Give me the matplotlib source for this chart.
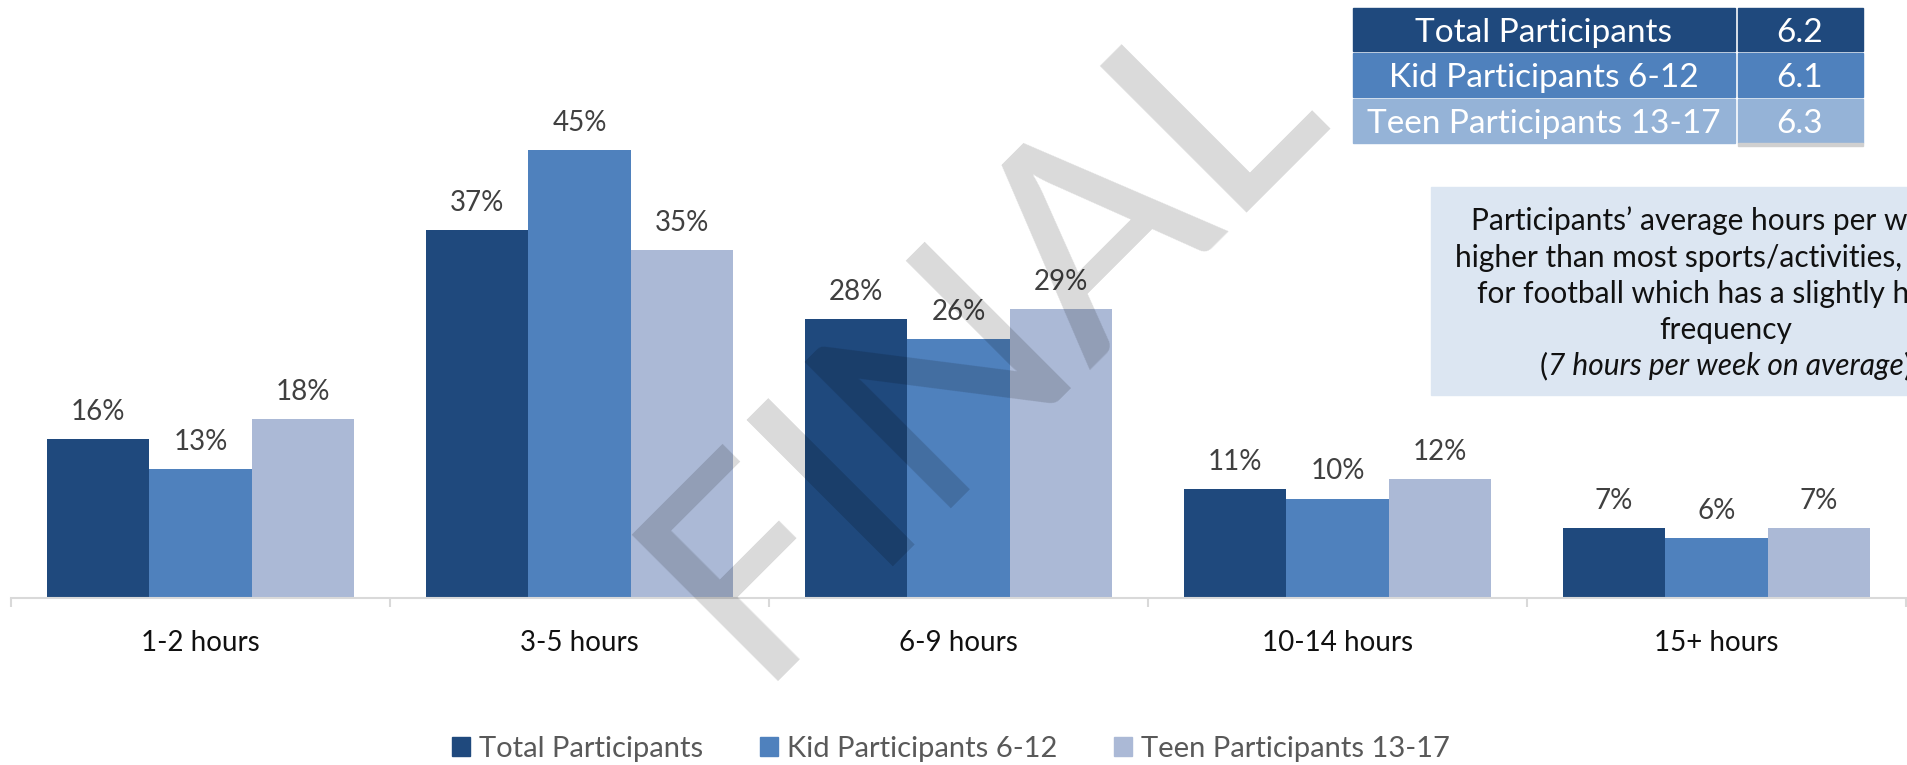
import matplotlib
matplotlib.use('Agg')
import matplotlib.pyplot as plt
from matplotlib.patches import Rectangle, Patch
import numpy as np

plt.rcParams['font.family'] = ['Lato', 'DejaVu Sans']

# chart data
categories = ['1-2 hours', '3-5 hours', '6-9 hours', '10-14 hours', '15+ hours']
series_names = ['Total Participants', 'Kid Participants 6-12', 'Teen Participants 13-17']
total_pct = [16, 37, 28, 11, 7]
kid_pct = [13, 45, 26, 10, 6]
teen_pct = [18, 35, 29, 12, 7]

# average hours table
avg_labels = ['Total Participants', 'Kid Participants 6-12', 'Teen Participants 13-17']
avg_hours = [6.2, 6.1, 6.3]

note_lines = ['Participants\u2019 average hours per week is',
              'higher than most sports/activities, except',
              'for football which has a slightly higher',
              'frequency']
note_last = '7 hours per week on average'

bar_colors = ['#1F497D', '#4F81BD', '#ABB9D6']
table_colors = ['#1F497D', '#4F81BD', '#95B3D7']

W, H = 1908, 765
fig = plt.figure(figsize=(W / 100, H / 100), dpi=100)


def fx(px):
    return px / W


def fy(py):
    return 1 - py / H


# main bar chart
ax = fig.add_axes([fx(11), fy(598), fx(1906) - fx(11), fy(0) - fy(598)])
x = np.arange(len(categories))
bw = 0.27
for i, vals in enumerate([total_pct, kid_pct, teen_pct]):
    bars = ax.bar(x + (i - 1) * bw, vals, width=bw, color=bar_colors[i],
                  label=series_names[i], zorder=2)
    for b, v in zip(bars, vals):
        ax.annotate(f'{v}%', (b.get_x() + b.get_width() / 2, v),
                    xytext=(0, 13.7), textcoords='offset points',
                    ha='center', va='baseline', fontsize=20, color='#404040')

ax.set_xlim(-0.5, len(categories) - 0.5)
ax.set_ylim(0, 598 / 9.95)
for s in ['top', 'left', 'right']:
    ax.spines[s].set_visible(False)
ax.spines['bottom'].set_color('#D9D9D9')
ax.spines['bottom'].set_linewidth(1.5)
ax.set_yticks([])
ax.set_xticks(np.arange(-0.5, len(categories)))
ax.set_xticklabels([])
ax.tick_params(axis='x', length=6.5, width=1.5, color='#D9D9D9')
for xi, c in zip(x, categories):
    ax.text(xi, -53 / 9.95, c, ha='center', va='baseline', fontsize=20,
            color='#111111', clip_on=False)

# legend
handles = [Patch(color=c) for c in bar_colors]
fig.legend(handles, series_names, loc='center', bbox_to_anchor=(fx(951), fy(749)),
           ncol=3, frameon=False, fontsize=21, labelcolor='#595959',
           handlelength=0.62, handleheight=0.62, handletextpad=0.3,
           columnspacing=1.95, borderpad=0)

# average hours table (top right)
row_tops = [8, 53, 99]
row_bots = [51, 97, 143]
for lab, val, c, t, b in zip(avg_labels, avg_hours, table_colors, row_tops, row_bots):
    fig.patches.append(Rectangle((fx(1353), fy(b)), fx(1735) - fx(1353), fy(t) - fy(b),
                                 transform=fig.transFigure, color=c))
    fig.patches.append(Rectangle((fx(1738), fy(b)), fx(1863) - fx(1738), fy(t) - fy(b),
                                 transform=fig.transFigure, color=c))
    fig.text(fx(1544), fy((t + b) / 2), lab, ha='center', va='center_baseline',
             fontsize=24, color='white')
    fig.text(fx(1800), fy((t + b) / 2), f'{val:.1f}', ha='center', va='center_baseline',
             fontsize=24, color='white')
fig.patches.append(Rectangle((fx(1738), fy(146)), fx(1863) - fx(1738), fy(143) - fy(146),
                             transform=fig.transFigure, color='#D0D0D0'))

# note box (runs off the right edge, as in the source slide)
fig.patches.append(Rectangle((fx(1431), fy(395)), 1.0, fy(187) - fy(395),
                             transform=fig.transFigure, color='#DCE6F2'))
baselines = [230, 267, 303, 339]
for line, yb in zip(note_lines, baselines):
    fig.text(fx(1726), fy(yb), line, ha='center', va='baseline', fontsize=21.5,
             color='#111111')
it = fig.text(fx(1726), fy(375), note_last, ha='center', va='baseline', fontsize=21.5,
              style='italic', color='#111111')
fig.canvas.draw()
ext = it.get_window_extent()
fig.text(ext.x0 / W, fy(375), '(', ha='right', va='baseline', fontsize=21.5,
         color='#111111')
fig.text(ext.x1 / W, fy(375), ')', ha='left', va='baseline', fontsize=21.5,
         color='#111111')

# FINAL watermark
fig.text(fx(1040), fy(394), 'FINAL', rotation=45, rotation_mode='anchor',
         ha='center', va='baseline', fontsize=208, fontweight=500,
         color='black', alpha=0.15, zorder=10)

fig.savefig('out.png', dpi=100)
